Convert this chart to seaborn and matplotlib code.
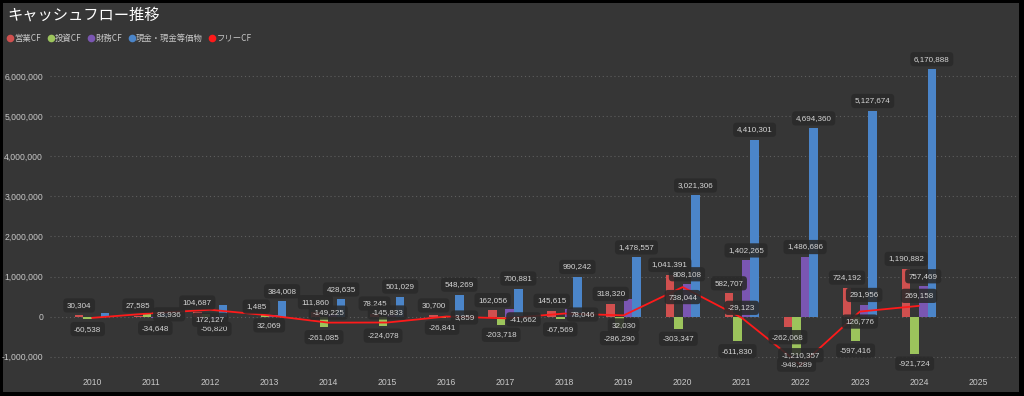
import numpy as np
import pandas as pd
import matplotlib
matplotlib.use("Agg")
import matplotlib.pyplot as plt
from matplotlib.lines import Line2D
from matplotlib.patches import Rectangle
from matplotlib.ticker import FuncFormatter
import seaborn as sns

# ─────────────────────────────────────────────
# DATA
# ─────────────────────────────────────────────
years = [2010, 2011, 2012, 2013, 2014, 2015, 2016, 2017,
         2018, 2019, 2020, 2021, 2022, 2023, 2024, 2025]
data_years = years[:-1]          # 2025 has no values yet

operating = [30304, 27585, 104687, 1485, 111860, 78245, 30700, 162056,
             145615, 318320, 1041391, 582707, -262068, 724192, 1190882]
investing = [-60538, 56351, 67440, 30584, -261085, -224078, -26841, -203718,
             -67569, -286290, -303347, -611830, -948289, -597416, -921724]
financing = [-10000, -34648, -56820, 50000, 60000, 50000, 20000, 180000,
             200000, 450000, 808108, 1402265, 1486686, 291956, 757469]
cash = [100000, 90000, 280000, 384008, 428635, 501029, 548269, 700881,
        990242, 1478557, 3021306, 4410301, 4694360, 5127674, 6170888]
free_cf = [-30234, 83936, 172127, 32069, -149225, -145833, 3859, -41662,
           78046, 32030, 738044, -29123, -1210357, 126776, 269158]

SERIES = ["営業CF", "投資CF", "財務CF", "現金・現金等価物"]
FREE_NAME = "フリーCF"

# which data labels are visible in the original
LABEL_HIDE = {
    "営業CF": set(),
    "投資CF": {2011, 2012, 2013},
    "財務CF": {2010, 2013, 2014, 2015, 2016, 2017, 2018, 2019},
    "現金・現金等価物": {2010, 2011, 2012},
}
FREE_LABEL_SIDE = {2011: "right", 2012: "below", 2013: "below", 2014: "above",
                   2015: "above", 2016: "right", 2017: "right", 2018: "right",
                   2019: "below", 2020: "below", 2021: "above", 2022: "above",
                   2023: "below", 2024: "above"}

# ─────────────────────────────────────────────
# STYLE
# ─────────────────────────────────────────────
BG = "#363636"
TEXT = "#c8c8c8"
COLORS = {"営業CF": "#d0504f", "投資CF": "#9cc45c",
          "財務CF": "#7a56b2", "現金・現金等価物": "#4b85c9"}
FREE_COLOR = "#ff1a1a"
NUM_FONT = ["Liberation Sans", "DejaVu Sans"]
JP_FONT = ["Noto Sans CJK JP", "DejaVu Sans"]
GROUP_W = 0.58
BAR_W = GROUP_W / len(SERIES)

sns.set_style("dark")
plt.rcParams["font.family"] = JP_FONT

# ─────────────────────────────────────────────
# FIGURE
# ─────────────────────────────────────────────
fig = plt.figure(figsize=(10.24, 3.96), dpi=100, facecolor="black")
fig.patches.append(Rectangle((3 / 1024, 4 / 396), 1016 / 1024, 389 / 396,
                             transform=fig.transFigure, facecolor=BG,
                             edgecolor="none", zorder=-10))
ax = fig.add_axes([50 / 1024, 24 / 396, 967 / 1024, 312 / 396])
ax.set_facecolor(BG)

values = {"営業CF": operating, "投資CF": investing,
          "財務CF": financing, "現金・現金等価物": cash}
df = pd.DataFrame([
    {"year": str(y), "series": s, "value": values[s][i]}
    for s in SERIES for i, y in enumerate(data_years)
])

sns.barplot(data=df, x="year", y="value", hue="series",
            order=[str(y) for y in years], hue_order=SERIES,
            palette=COLORS, width=GROUP_W, gap=0, saturation=1,
            errorbar=None, linewidth=0, legend=False, ax=ax, zorder=2)

sns.lineplot(x=np.arange(len(data_years)), y=free_cf, ax=ax,
             color=FREE_COLOR, linewidth=1.3, zorder=3)

ax.set_xlim(-0.711, 15.66)
ax.set_ylim(-1.38e6, 6.4e6)
ax.set_yticks(np.arange(-1e6, 6.5e6, 1e6))
ax.yaxis.set_major_formatter(FuncFormatter(lambda v, p: f"{int(v):,}"))
ax.set_xlabel("")
ax.set_ylabel("")
for sp in ax.spines.values():
    sp.set_visible(False)
ax.yaxis.grid(True, color="#5e5e5e", linestyle=(0, (1, 2.5)), linewidth=0.8)
ax.xaxis.grid(False)
ax.set_axisbelow(True)
ax.tick_params(axis="both", length=0, colors=TEXT, labelsize=6.2)
ax.tick_params(axis="y", pad=5)
ax.tick_params(axis="x", pad=4)
for t in ax.get_xticklabels() + ax.get_yticklabels():
    t.set_fontfamily(NUM_FONT)


# ─────────────────────────────────────────────
# DATA LABELS
# ─────────────────────────────────────────────
def put_label(x, y, value, dx, dy):
    ax.annotate(f"{value:,}", xy=(x, y), xytext=(dx, dy),
                textcoords="offset pixels", ha="center", va="center",
                fontsize=5.8, color="#d6d6d6", family=NUM_FONT, zorder=6,
                bbox=dict(boxstyle="round,pad=0.45", facecolor="#2a2a2a",
                          edgecolor="none", alpha=0.88))


for k, s in enumerate(SERIES):
    for i, y in enumerate(data_years):
        if y in LABEL_HIDE[s]:
            continue
        v = values[s][i]
        x = i + (k - 1.5) * BAR_W
        put_label(x, v, v, 0, 10 if v >= 0 else -10)

side_offset = {"above": (0, 10), "below": (0, -10), "right": (18, -1)}
for i, y in enumerate(data_years):
    if y not in FREE_LABEL_SIDE:
        continue
    dx, dy = side_offset[FREE_LABEL_SIDE[y]]
    put_label(i, free_cf[i], free_cf[i], dx, dy)

# ─────────────────────────────────────────────
# TITLE + LEGEND
# ─────────────────────────────────────────────
fig.text(7 / 1024, 1 - 15 / 396, "キャッシュフロー推移", color="white",
         fontsize=11, va="center", ha="left", family=JP_FONT)

handles = [Line2D([], [], linestyle="none", marker="o", markersize=5.5,
                  markerfacecolor=COLORS[s], markeredgecolor="none")
           for s in SERIES]
handles.append(Line2D([], [], linestyle="none", marker="o", markersize=5.5,
                      markerfacecolor=FREE_COLOR, markeredgecolor="none"))
leg = fig.legend(handles, SERIES + [FREE_NAME], loc="center left",
                 bbox_to_anchor=(3 / 1024, 1 - 38 / 396), ncol=5,
                 frameon=False, fontsize=6, handlelength=0.7,
                 handletextpad=0.2, columnspacing=0.75, borderpad=0)
for t in leg.get_texts():
    t.set_color(TEXT)

fig.savefig("out.png", dpi=100, facecolor=fig.get_facecolor())
